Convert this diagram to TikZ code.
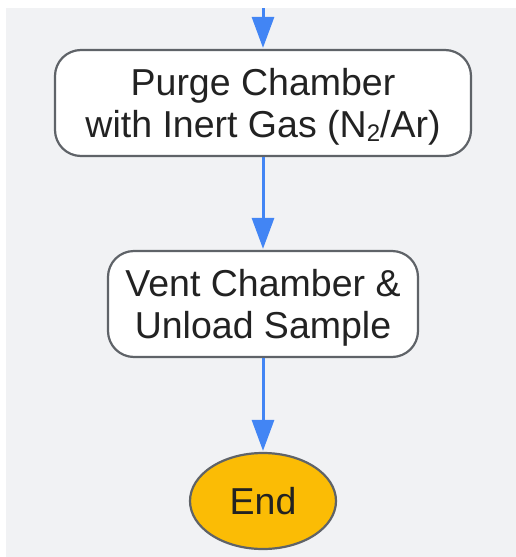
\documentclass[tikz,border=0pt]{standalone}
\usepackage{fontspec}
\setmainfont{Liberation Sans}
\usetikzlibrary{arrows.meta,shapes.geometric}
\definecolor{bgc}{HTML}{F1F2F4}
\definecolor{edgec}{HTML}{5F6368}
\definecolor{arrc}{HTML}{4285F4}
\definecolor{txtc}{HTML}{222222}
\definecolor{endc}{HTML}{FBBC05}
\newcommand{\subtwo}{\raisebox{-0.1em}{\fontsize{24}{24}\selectfont 2}}
\tikzset{
  stepbox/.style={draw=edgec, line width=2.2pt, fill=white, rounded corners=26pt, minimum height=106pt, inner sep=0pt},
  steptext/.style={align=center, text=txtc, inner sep=0pt, font=\fontsize{37.5}{41.5}\selectfont},
  endbox/.style={draw=edgec, line width=2.2pt, fill=endc, ellipse, minimum width=146pt, minimum height=96pt, inner sep=0pt, text=txtc, font=\fontsize{37.5}{41}\selectfont},
  flow/.style={draw=arrc, line width=3pt, -{Triangle[length=31pt,width=22pt]}, shorten >=1pt}
}
\begin{document}
\begin{tikzpicture}[x=1pt,y=-1pt]
\useasboundingbox (0,0) rectangle (516,557);
\fill[bgc] (6,8) rectangle (516,557);
\coordinate (top) at (263,8);
\node[stepbox, minimum width=416pt] (purge) at (263,103) {};
\node[steptext] (purgetext) at (263,107) {Purge Chamber\\with Inert Gas (N\subtwo/Ar)};
\node[stepbox, minimum width=310pt] (vent) at (263,304) {};
\node[steptext] (venttext) at (263,308) {Vent Chamber \&\\Unload Sample};
\node[endbox] (end) at (263,501) {End};
\draw[flow] (top) -- (purge);
\draw[flow] (purge) -- (vent);
\draw[flow] (vent) -- (end);
\end{tikzpicture}
\end{document}
